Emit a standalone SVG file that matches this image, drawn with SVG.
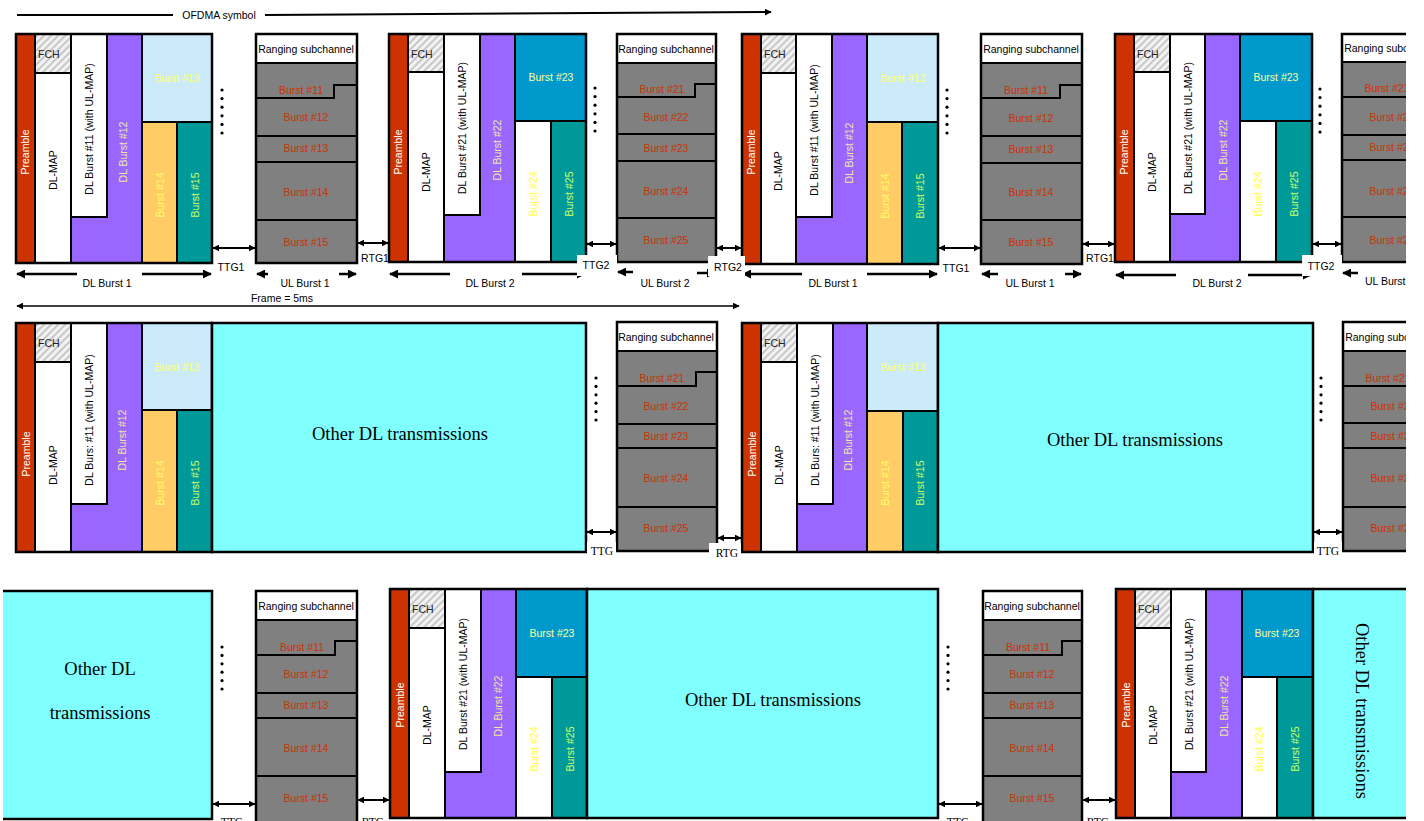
<svg xmlns="http://www.w3.org/2000/svg" width="1424" height="821" viewBox="0 0 1424 821">
<style>
.b{stroke:#000;stroke-width:2}
.o{fill:none;stroke:#000;stroke-width:2.5}
.cy{fill:#80FFFF;stroke:#000;stroke-width:2.5}
.s{font-family:"Liberation Sans",Arial,sans-serif;font-size:10.5px}
.tm{font-family:"Liberation Serif","Times New Roman",serif}
.c{text-anchor:middle}
.u{fill:#CC3300}
.y{fill:#FFFF66}
.yg{fill:#CCFF66}
.pl{fill:#F0E6A0}
.w{fill:#fff}
.k{fill:#000}
.ln{stroke:#000;fill:none}
.dot{fill:#000}
</style>
<defs>
<pattern id="hatch" width="5" height="5" patternUnits="userSpaceOnUse" patternTransform="rotate(45)"><rect width="5" height="5" fill="#F2F2F2"/><line x1="1" y1="0" x2="1" y2="5" stroke="#BDBDBD" stroke-width="1.6"/></pattern>
<marker id="ah" viewBox="0 0 10 10" refX="9" refY="5" markerWidth="7" markerHeight="7" markerUnits="userSpaceOnUse" orient="auto-start-reverse"><path d="M0,0 L10,5 L0,10 Z" fill="#000"/></marker>
<marker id="ahb" viewBox="0 0 10 10" refX="9" refY="5" markerWidth="9" markerHeight="9" markerUnits="userSpaceOnUse" orient="auto-start-reverse"><path d="M0,0 L10,5 L0,10 Z" fill="#000"/></marker>
<clipPath id="clip"><rect x="0" y="0" width="1406" height="821"/></clipPath>
</defs>
<rect width="1424" height="821" fill="#fff"/>
<g clip-path="url(#clip)">

<!-- ROW 1 -->
<g id="dl-r1-1" transform="translate(16,34)">
<rect x="0" y="0" width="19" height="229" fill="#CC3300" class="b"/>
<rect x="19" y="0" width="36" height="39" fill="url(#hatch)" class="b"/>
<rect x="19" y="39" width="36" height="190" fill="#fff" class="b"/>
<path d="M55,183 H91 V0 H126 V229 H55 Z" fill="#9966FF" class="b"/>
<rect x="55" y="0" width="36" height="183" fill="#fff" class="b"/>
<rect x="126" y="0" width="70" height="88" fill="#CCEBFA" class="b"/>
<rect x="126" y="88" width="35" height="141" fill="#FFCC66" class="b"/>
<rect x="161" y="88" width="35" height="141" fill="#009999" class="b"/>
<rect x="0" y="0" width="196" height="229" class="o"/>
<text x="22" y="24" class="s" fill="#222" font-size="11">FCH</text>
<text transform="translate(9.5,118) rotate(-90)" dy="0.35em" class="s c w" font-size="11">Preamble</text>
<text transform="translate(37,136) rotate(-90)" dy="0.35em" class="s c k" font-size="11.5">DL-MAP</text>
<text transform="translate(73,95) rotate(-90)" dy="0.35em" class="s c k">DL Burst #11 (with UL-MAP)</text>
<text transform="translate(107,118) rotate(-90)" dy="0.35em" class="s c pl">DL Burst #12</text>
<text x="161" y="44" dy="0.35em" class="s c y">Burst #13</text>
<text transform="translate(144,161) rotate(-90)" dy="0.35em" class="s c y">Burst #14</text>
<text transform="translate(179,161) rotate(-90)" dy="0.35em" class="s c yg">Burst #15</text>
</g>
<g id="ul-r1-1" transform="translate(256,34)">
<rect x="0" y="0" width="101" height="229" fill="#808080" class="b"/>
<rect x="0" y="0" width="101" height="29" fill="#fff" class="b"/>
<path d="M0,64 H78 V51 H101 M0,102 H101 M0,128 H101 M0,186 H101" class="b" fill="none"/>
<rect x="0" y="0" width="101" height="229" class="o"/>
<text x="50" y="15" dy="0.35em" class="s c k">Ranging subchannel</text>
<text x="45" y="56" dy="0.35em" class="s c u">Burst #11</text>
<text x="50" y="83" dy="0.35em" class="s c u">Burst #12</text>
<text x="50" y="114" dy="0.35em" class="s c u">Burst #13</text>
<text x="50" y="158" dy="0.35em" class="s c u">Burst #14</text>
<text x="50" y="208" dy="0.35em" class="s c u">Burst #15</text>
</g>
<g id="dl-r1-2" transform="translate(389,34)">
<rect x="0" y="0" width="19" height="228" fill="#CC3300" class="b"/>
<rect x="19" y="0" width="36" height="38" fill="url(#hatch)" class="b"/>
<rect x="19" y="38" width="36" height="190" fill="#fff" class="b"/>
<path d="M55,181 H91 V0 H126 V228 H55 Z" fill="#9966FF" class="b"/>
<rect x="55" y="0" width="36" height="181" fill="#fff" class="b"/>
<rect x="126" y="0" width="71" height="87" fill="#0099CC" class="b"/>
<rect x="126" y="87" width="36" height="141" fill="#fff" class="b"/>
<rect x="162" y="87" width="35" height="141" fill="#009999" class="b"/>
<rect x="0" y="0" width="197" height="228" class="o"/>
<text x="22" y="24" class="s" fill="#222" font-size="11">FCH</text>
<text transform="translate(9.5,118) rotate(-90)" dy="0.35em" class="s c w" font-size="11">Preamble</text>
<text transform="translate(37,138) rotate(-90)" dy="0.35em" class="s c k" font-size="11.5">DL-MAP</text>
<text transform="translate(73,94) rotate(-90)" dy="0.35em" class="s c k">DL Burst #21 (with UL-MAP)</text>
<text transform="translate(108,116) rotate(-90)" dy="0.35em" class="s c pl">DL Burst #22</text>
<text x="162" y="43" dy="0.35em" class="s c" fill="#FFFF99">Burst #23</text>
<text transform="translate(144,160) rotate(-90)" dy="0.35em" class="s c" fill="#FFFF33">Burst #24</text>
<text transform="translate(180,160) rotate(-90)" dy="0.35em" class="s c yg">Burst #25</text>
</g>
<g id="ul-r1-2" transform="translate(617,34)">
<rect x="0" y="0" width="99" height="228" fill="#808080" class="b"/>
<rect x="0" y="0" width="99" height="29" fill="#fff" class="b"/>
<path d="M0,63 H78 V50 H99 M0,100 H99 M0,127 H99 M0,184 H99" class="b" fill="none"/>
<rect x="0" y="0" width="99" height="228" class="o"/>
<text x="49" y="15" dy="0.35em" class="s c k">Ranging subchannel</text>
<text x="45" y="55" dy="0.35em" class="s c u">Burst #21</text>
<text x="49" y="83" dy="0.35em" class="s c u">Burst #22</text>
<text x="49" y="114" dy="0.35em" class="s c u">Burst #23</text>
<text x="49" y="157" dy="0.35em" class="s c u">Burst #24</text>
<text x="49" y="206" dy="0.35em" class="s c u">Burst #25</text>
</g>
<g id="dl-r1-3" transform="translate(742,34)">
<rect x="0" y="0" width="19" height="230" fill="#CC3300" class="b"/>
<rect x="19" y="0" width="35" height="39" fill="url(#hatch)" class="b"/>
<rect x="19" y="39" width="35" height="191" fill="#fff" class="b"/>
<path d="M54,183 H90 V0 H125 V230 H54 Z" fill="#9966FF" class="b"/>
<rect x="54" y="0" width="36" height="183" fill="#fff" class="b"/>
<rect x="125" y="0" width="71" height="88" fill="#CCEBFA" class="b"/>
<rect x="125" y="88" width="35" height="142" fill="#FFCC66" class="b"/>
<rect x="160" y="88" width="36" height="142" fill="#009999" class="b"/>
<rect x="0" y="0" width="196" height="230" class="o"/>
<text x="22" y="24" class="s" fill="#222" font-size="11">FCH</text>
<text transform="translate(9.5,118) rotate(-90)" dy="0.35em" class="s c w" font-size="11">Preamble</text>
<text transform="translate(36,137) rotate(-90)" dy="0.35em" class="s c k" font-size="11.5">DL-MAP</text>
<text transform="translate(72,96) rotate(-90)" dy="0.35em" class="s c k">DL Burst #11 (with UL-MAP)</text>
<text transform="translate(107,119) rotate(-90)" dy="0.35em" class="s c pl">DL Burst #12</text>
<text x="161" y="44" dy="0.35em" class="s c y">Burst #13</text>
<text transform="translate(143,162) rotate(-90)" dy="0.35em" class="s c y">Burst #14</text>
<text transform="translate(178,162) rotate(-90)" dy="0.35em" class="s c yg">Burst #15</text>
</g>
<g id="ul-r1-3" transform="translate(981,34)">
<rect x="0" y="0" width="101" height="230" fill="#808080" class="b"/>
<rect x="0" y="0" width="101" height="29" fill="#fff" class="b"/>
<path d="M0,64 H79 V51 H101 M0,102 H101 M0,129 H101 M0,186 H101" class="b" fill="none"/>
<rect x="0" y="0" width="101" height="230" class="o"/>
<text x="50" y="15" dy="0.35em" class="s c k">Ranging subchannel</text>
<text x="45" y="56" dy="0.35em" class="s c u">Burst #11</text>
<text x="50" y="84" dy="0.35em" class="s c u">Burst #12</text>
<text x="50" y="115" dy="0.35em" class="s c u">Burst #13</text>
<text x="50" y="158" dy="0.35em" class="s c u">Burst #14</text>
<text x="50" y="208" dy="0.35em" class="s c u">Burst #15</text>
</g>
<g id="dl-r1-4" transform="translate(1115,34)">
<rect x="0" y="0" width="19" height="228" fill="#CC3300" class="b"/>
<rect x="19" y="0" width="36" height="38" fill="url(#hatch)" class="b"/>
<rect x="19" y="38" width="36" height="190" fill="#fff" class="b"/>
<path d="M55,180 H90 V0 H125 V228 H55 Z" fill="#9966FF" class="b"/>
<rect x="55" y="0" width="35" height="180" fill="#fff" class="b"/>
<rect x="125" y="0" width="72" height="87" fill="#0099CC" class="b"/>
<rect x="125" y="87" width="36" height="141" fill="#fff" class="b"/>
<rect x="161" y="87" width="36" height="141" fill="#009999" class="b"/>
<rect x="0" y="0" width="197" height="228" class="o"/>
<text x="22" y="24" class="s" fill="#222" font-size="11">FCH</text>
<text transform="translate(9.5,118) rotate(-90)" dy="0.35em" class="s c w" font-size="11">Preamble</text>
<text transform="translate(37,138) rotate(-90)" dy="0.35em" class="s c k" font-size="11.5">DL-MAP</text>
<text transform="translate(73,94) rotate(-90)" dy="0.35em" class="s c k">DL Burst #21 (with UL-MAP)</text>
<text transform="translate(108,116) rotate(-90)" dy="0.35em" class="s c pl">DL Burst #22</text>
<text x="161" y="43" dy="0.35em" class="s c" fill="#FFFF99">Burst #23</text>
<text transform="translate(143,160) rotate(-90)" dy="0.35em" class="s c" fill="#FFFF33">Burst #24</text>
<text transform="translate(179,160) rotate(-90)" dy="0.35em" class="s c yg">Burst #25</text>
</g>
<g id="ul-r1-4" transform="translate(1342,34)">
<rect x="0" y="0" width="101" height="228" fill="#808080" class="b"/>
<rect x="0" y="0" width="101" height="28" fill="#fff" class="b"/>
<path d="M0,63 H101 M0,101 H101 M0,126 H101 M0,183 H101" class="b" fill="none"/>
<rect x="0" y="0" width="101" height="228" class="o"/>
<text x="50" y="14" dy="0.35em" class="s c k">Ranging subchannel</text>
<text x="45" y="54" dy="0.35em" class="s c u">Burst #21</text>
<text x="50" y="83" dy="0.35em" class="s c u">Burst #22</text>
<text x="50" y="113" dy="0.35em" class="s c u">Burst #23</text>
<text x="50" y="157" dy="0.35em" class="s c u">Burst #24</text>
<text x="50" y="206" dy="0.35em" class="s c u">Burst #25</text>
</g>

<!-- ROW 2 -->
<g id="dl-r2-1" transform="translate(16,323)">
<rect x="0" y="0" width="19" height="229" fill="#CC3300" class="b"/>
<rect x="19" y="0" width="36" height="39" fill="url(#hatch)" class="b"/>
<rect x="19" y="39" width="36" height="190" fill="#fff" class="b"/>
<path d="M55,181 H91 V0 H126 V229 H55 Z" fill="#9966FF" class="b"/>
<rect x="55" y="0" width="36" height="181" fill="#fff" class="b"/>
<rect x="126" y="0" width="70" height="87" fill="#CCEBFA" class="b"/>
<rect x="126" y="87" width="35" height="142" fill="#FFCC66" class="b"/>
<rect x="161" y="87" width="35" height="142" fill="#009999" class="b"/>
<rect x="0" y="0" width="196" height="229" class="o"/>
<text x="22" y="24" class="s" fill="#222" font-size="11">FCH</text>
<text transform="translate(10,131) rotate(-90)" dy="0.35em" class="s c w" font-size="11">Preamble</text>
<text transform="translate(37,142) rotate(-90)" dy="0.35em" class="s c k" font-size="11.5">DL-MAP</text>
<text transform="translate(73,97) rotate(-90)" dy="0.35em" class="s c k">DL Burs: #11 (with UL-MAP)</text>
<text transform="translate(106,117) rotate(-90)" dy="0.35em" class="s c pl">DL Burst #12</text>
<text x="161" y="44" dy="0.35em" class="s c y">Burst #13</text>
<text transform="translate(144,160) rotate(-90)" dy="0.35em" class="s c y">Burst #14</text>
<text transform="translate(179,160) rotate(-90)" dy="0.35em" class="s c yg">Burst #15</text>
</g>
<g id="other-r2-1">
<rect x="212" y="323" width="374" height="229" class="cy"/>
<text x="400" y="440" class="tm c" font-size="18.5" fill="#000">Other DL transmissions</text>
</g>
<g id="ul-r2-1" transform="translate(617,322)">
<rect x="0" y="0" width="100" height="229" fill="#808080" class="b"/>
<rect x="0" y="0" width="100" height="29" fill="#fff" class="b"/>
<path d="M0,64 H79 V50 H100 M0,102 H100 M0,126 H100 M0,185 H100" class="b" fill="none"/>
<rect x="0" y="0" width="100" height="229" class="o"/>
<text x="49" y="15" dy="0.35em" class="s c k">Ranging subchannel</text>
<text x="45" y="56" dy="0.35em" class="s c u">Burst #21</text>
<text x="49" y="84" dy="0.35em" class="s c u">Burst #22</text>
<text x="49" y="114" dy="0.35em" class="s c u">Burst #23</text>
<text x="49" y="156" dy="0.35em" class="s c u">Burst #24</text>
<text x="49" y="206" dy="0.35em" class="s c u">Burst #25</text>
</g>
<g id="dl-r2-2" transform="translate(742,323)">
<rect x="0" y="0" width="19" height="229" fill="#CC3300" class="b"/>
<rect x="19" y="0" width="36" height="39" fill="url(#hatch)" class="b"/>
<rect x="19" y="39" width="36" height="190" fill="#fff" class="b"/>
<path d="M55,181 H91 V0 H125 V229 H55 Z" fill="#9966FF" class="b"/>
<rect x="55" y="0" width="36" height="181" fill="#fff" class="b"/>
<rect x="125" y="0" width="71" height="88" fill="#CCEBFA" class="b"/>
<rect x="125" y="88" width="36" height="141" fill="#FFCC66" class="b"/>
<rect x="161" y="88" width="35" height="141" fill="#009999" class="b"/>
<rect x="0" y="0" width="196" height="229" class="o"/>
<text x="22" y="24" class="s" fill="#222" font-size="11">FCH</text>
<text transform="translate(10,131) rotate(-90)" dy="0.35em" class="s c w" font-size="11">Preamble</text>
<text transform="translate(37,142) rotate(-90)" dy="0.35em" class="s c k" font-size="11.5">DL-MAP</text>
<text transform="translate(73,97) rotate(-90)" dy="0.35em" class="s c k">DL Burs: #11 (with UL-MAP)</text>
<text transform="translate(106,117) rotate(-90)" dy="0.35em" class="s c pl">DL Burst #12</text>
<text x="161" y="44" dy="0.35em" class="s c y">Burst #13</text>
<text transform="translate(143,160) rotate(-90)" dy="0.35em" class="s c y">Burst #14</text>
<text transform="translate(178,160) rotate(-90)" dy="0.35em" class="s c yg">Burst #15</text>
</g>
<g id="other-r2-2">
<rect x="938" y="323" width="375" height="229" class="cy"/>
<text x="1135" y="446" class="tm c" font-size="18.5" fill="#000">Other DL transmissions</text>
</g>
<g id="ul-r2-2" transform="translate(1343,322)">
<rect x="0" y="0" width="100" height="229" fill="#808080" class="b"/>
<rect x="0" y="0" width="100" height="29" fill="#fff" class="b"/>
<path d="M0,64 H100 M0,101 H100 M0,126 H100 M0,185 H100" class="b" fill="none"/>
<rect x="0" y="0" width="100" height="229" class="o"/>
<text x="50" y="15" dy="0.35em" class="s c k">Ranging subchannel</text>
<text x="45" y="56" dy="0.35em" class="s c u">Burst #21</text>
<text x="50" y="84" dy="0.35em" class="s c u">Burst #22</text>
<text x="50" y="114" dy="0.35em" class="s c u">Burst #23</text>
<text x="50" y="156" dy="0.35em" class="s c u">Burst #24</text>
<text x="50" y="206" dy="0.35em" class="s c u">Burst #25</text>
</g>

<!-- ROW 3 -->
<g id="other-r3-1">
<rect x="3" y="591" width="209" height="228" fill="#80FFFF"/>
<path d="M3,591 H212 V819 H3" class="o"/>
<text x="100" y="675" class="tm c" font-size="18.5" fill="#000">Other DL</text>
<text x="100" y="719" class="tm c" font-size="18.5" fill="#000">transmissions</text>
</g>
<g id="ul-r3-1" transform="translate(256,591)">
<rect x="0" y="0" width="101" height="235" fill="#808080" class="b"/>
<rect x="0" y="0" width="101" height="29" fill="#fff" class="b"/>
<path d="M0,64 H79 V50 H101 M0,102 H101 M0,127 H101 M0,185 H101" class="b" fill="none"/>
<rect x="0" y="0" width="101" height="235" class="o"/>
<text x="50" y="15" dy="0.35em" class="s c k">Ranging subchannel</text>
<text x="46" y="56" dy="0.35em" class="s c u">Burst #11</text>
<text x="50" y="83" dy="0.35em" class="s c u">Burst #12</text>
<text x="50" y="114" dy="0.35em" class="s c u">Burst #13</text>
<text x="50" y="157" dy="0.35em" class="s c u">Burst #14</text>
<text x="50" y="207" dy="0.35em" class="s c u">Burst #15</text>
</g>
<g id="dl-r3-1" transform="translate(390,589)">
<rect x="0" y="0" width="19" height="229" fill="#CC3300" class="b"/>
<rect x="19" y="0" width="36" height="39" fill="url(#hatch)" class="b"/>
<rect x="19" y="39" width="36" height="190" fill="#fff" class="b"/>
<path d="M55,183 H91 V0 H126 V229 H55 Z" fill="#9966FF" class="b"/>
<rect x="55" y="0" width="36" height="183" fill="#fff" class="b"/>
<rect x="126" y="0" width="71" height="88" fill="#0099CC" class="b"/>
<rect x="126" y="88" width="36" height="141" fill="#fff" class="b"/>
<rect x="162" y="88" width="35" height="141" fill="#009999" class="b"/>
<rect x="0" y="0" width="197" height="229" class="o"/>
<text x="22" y="24" class="s" fill="#222" font-size="11">FCH</text>
<text transform="translate(10,116) rotate(-90)" dy="0.35em" class="s c w" font-size="11">Preamble</text>
<text transform="translate(37,136) rotate(-90)" dy="0.35em" class="s c k" font-size="11.5">DL-MAP</text>
<text transform="translate(73,95) rotate(-90)" dy="0.35em" class="s c k">DL Burst #21 (with UL-MAP)</text>
<text transform="translate(108,117) rotate(-90)" dy="0.35em" class="s c pl">DL Burst #22</text>
<text x="162" y="44" dy="0.35em" class="s c" fill="#FFFF99">Burst #23</text>
<text transform="translate(144,160) rotate(-90)" dy="0.35em" class="s c" fill="#FFFF33">Burst #24</text>
<text transform="translate(180,160) rotate(-90)" dy="0.35em" class="s c yg">Burst #25</text>
</g>
<g id="other-r3-2">
<rect x="587" y="589" width="351" height="229" class="cy"/>
<text x="773" y="706" class="tm c" font-size="18.5" fill="#000">Other DL transmissions</text>
</g>
<g id="ul-r3-2" transform="translate(983,591)">
<rect x="0" y="0" width="99" height="235" fill="#808080" class="b"/>
<rect x="0" y="0" width="99" height="29" fill="#fff" class="b"/>
<path d="M0,64 H79 V50 H99 M0,102 H99 M0,127 H99 M0,185 H99" class="b" fill="none"/>
<rect x="0" y="0" width="99" height="235" class="o"/>
<text x="49" y="15" dy="0.35em" class="s c k">Ranging subchannel</text>
<text x="45" y="56" dy="0.35em" class="s c u">Burst #11</text>
<text x="49" y="83" dy="0.35em" class="s c u">Burst #12</text>
<text x="49" y="114" dy="0.35em" class="s c u">Burst #13</text>
<text x="49" y="157" dy="0.35em" class="s c u">Burst #14</text>
<text x="49" y="207" dy="0.35em" class="s c u">Burst #15</text>
</g>
<g id="dl-r3-2" transform="translate(1116,589)">
<rect x="0" y="0" width="19" height="229" fill="#CC3300" class="b"/>
<rect x="19" y="0" width="36" height="39" fill="url(#hatch)" class="b"/>
<rect x="19" y="39" width="36" height="190" fill="#fff" class="b"/>
<path d="M55,183 H90 V0 H126 V229 H55 Z" fill="#9966FF" class="b"/>
<rect x="55" y="0" width="35" height="183" fill="#fff" class="b"/>
<rect x="126" y="0" width="71" height="88" fill="#0099CC" class="b"/>
<rect x="126" y="88" width="35" height="141" fill="#fff" class="b"/>
<rect x="161" y="88" width="36" height="141" fill="#009999" class="b"/>
<rect x="0" y="0" width="197" height="229" class="o"/>
<text x="22" y="24" class="s" fill="#222" font-size="11">FCH</text>
<text transform="translate(10,116) rotate(-90)" dy="0.35em" class="s c w" font-size="11">Preamble</text>
<text transform="translate(37,136) rotate(-90)" dy="0.35em" class="s c k" font-size="11.5">DL-MAP</text>
<text transform="translate(73,95) rotate(-90)" dy="0.35em" class="s c k">DL Burst #21 (with UL-MAP)</text>
<text transform="translate(108,117) rotate(-90)" dy="0.35em" class="s c pl">DL Burst #22</text>
<text x="161" y="44" dy="0.35em" class="s c" fill="#FFFF99">Burst #23</text>
<text transform="translate(143,160) rotate(-90)" dy="0.35em" class="s c" fill="#FFFF33">Burst #24</text>
<text transform="translate(179,160) rotate(-90)" dy="0.35em" class="s c yg">Burst #25</text>
</g>
<g id="other-r3-3">
<rect x="1313" y="589" width="120" height="229" class="cy"/>
<text transform="translate(1362,711) rotate(90)" dy="0.35em" class="tm c" font-size="18.5" fill="#000">Other DL transmissions</text>
</g>

<!-- dots -->
<g id="dots">
<circle cx="222" cy="90" r="1.6" class="dot"/><circle cx="222" cy="98.6" r="1.6" class="dot"/><circle cx="222" cy="107.2" r="1.6" class="dot"/><circle cx="222" cy="115.8" r="1.6" class="dot"/><circle cx="222" cy="124.4" r="1.6" class="dot"/><circle cx="222" cy="133" r="1.6" class="dot"/>
<circle cx="595" cy="88" r="1.6" class="dot"/><circle cx="595" cy="96.6" r="1.6" class="dot"/><circle cx="595" cy="105.2" r="1.6" class="dot"/><circle cx="595" cy="113.8" r="1.6" class="dot"/><circle cx="595" cy="122.4" r="1.6" class="dot"/><circle cx="595" cy="131" r="1.6" class="dot"/>
<circle cx="947" cy="90" r="1.6" class="dot"/><circle cx="947" cy="98.6" r="1.6" class="dot"/><circle cx="947" cy="107.2" r="1.6" class="dot"/><circle cx="947" cy="115.8" r="1.6" class="dot"/><circle cx="947" cy="124.4" r="1.6" class="dot"/><circle cx="947" cy="133" r="1.6" class="dot"/>
<circle cx="1320" cy="89" r="1.6" class="dot"/><circle cx="1320" cy="97.6" r="1.6" class="dot"/><circle cx="1320" cy="106.2" r="1.6" class="dot"/><circle cx="1320" cy="114.8" r="1.6" class="dot"/><circle cx="1320" cy="123.4" r="1.6" class="dot"/><circle cx="1320" cy="132" r="1.6" class="dot"/>
<circle cx="596" cy="378" r="1.6" class="dot"/><circle cx="596" cy="386.4" r="1.6" class="dot"/><circle cx="596" cy="394.8" r="1.6" class="dot"/><circle cx="596" cy="403.2" r="1.6" class="dot"/><circle cx="596" cy="411.6" r="1.6" class="dot"/><circle cx="596" cy="420" r="1.6" class="dot"/>
<circle cx="1321" cy="378" r="1.6" class="dot"/><circle cx="1321" cy="386.4" r="1.6" class="dot"/><circle cx="1321" cy="394.8" r="1.6" class="dot"/><circle cx="1321" cy="403.2" r="1.6" class="dot"/><circle cx="1321" cy="411.6" r="1.6" class="dot"/><circle cx="1321" cy="420" r="1.6" class="dot"/>
<circle cx="222" cy="647" r="1.6" class="dot"/><circle cx="222" cy="655.4" r="1.6" class="dot"/><circle cx="222" cy="663.8" r="1.6" class="dot"/><circle cx="222" cy="672.2" r="1.6" class="dot"/><circle cx="222" cy="680.6" r="1.6" class="dot"/><circle cx="222" cy="689" r="1.6" class="dot"/>
<circle cx="948" cy="647" r="1.6" class="dot"/><circle cx="948" cy="655.4" r="1.6" class="dot"/><circle cx="948" cy="663.8" r="1.6" class="dot"/><circle cx="948" cy="672.2" r="1.6" class="dot"/><circle cx="948" cy="680.6" r="1.6" class="dot"/><circle cx="948" cy="689" r="1.6" class="dot"/>
</g>

<!-- connectors -->
<g id="connectors" class="ln">
<line x1="17" y1="15" x2="173" y2="15" stroke-width="2"/>
<line x1="265" y1="15" x2="771" y2="12" stroke-width="2" marker-end="url(#ah)"/>
<line x1="17" y1="306" x2="739" y2="306" stroke-width="1.5" marker-start="url(#ah)" marker-end="url(#ah)"/>
<line x1="213" y1="248" x2="255" y2="248" stroke-width="2" marker-start="url(#ah)" marker-end="url(#ah)"/>
<line x1="358" y1="243" x2="388" y2="243" stroke-width="2" marker-start="url(#ah)" marker-end="url(#ah)"/>
<line x1="587" y1="244" x2="616" y2="244" stroke-width="2" marker-start="url(#ah)" marker-end="url(#ah)"/>
<line x1="717" y1="248" x2="741" y2="248" stroke-width="2" marker-start="url(#ah)" marker-end="url(#ah)"/>
<line x1="939" y1="248" x2="980" y2="248" stroke-width="2" marker-start="url(#ah)" marker-end="url(#ah)"/>
<line x1="1083" y1="244" x2="1114" y2="244" stroke-width="2" marker-start="url(#ah)" marker-end="url(#ah)"/>
<line x1="1313" y1="244" x2="1341" y2="244" stroke-width="2" marker-start="url(#ah)" marker-end="url(#ah)"/>
<line x1="77" y1="274" x2="17" y2="274" stroke-width="2.5" marker-end="url(#ahb)"/>
<line x1="142" y1="274" x2="211" y2="274" stroke-width="2.5" marker-end="url(#ahb)"/>
<line x1="268" y1="274" x2="257" y2="274" stroke-width="2.5" marker-end="url(#ahb)"/>
<line x1="339" y1="274" x2="356" y2="274" stroke-width="2.5" marker-end="url(#ahb)"/>
<line x1="450" y1="274" x2="390" y2="274" stroke-width="2.5" marker-end="url(#ahb)"/>
<line x1="522" y1="274" x2="585" y2="274" stroke-width="2.5" marker-end="url(#ahb)"/>
<line x1="633" y1="272" x2="618" y2="272" stroke-width="2.5" marker-end="url(#ahb)"/>
<line x1="697" y1="273" x2="715" y2="273" stroke-width="2.5" marker-end="url(#ahb)"/>
<line x1="802" y1="274" x2="743" y2="274" stroke-width="2.5" marker-end="url(#ahb)"/>
<line x1="867" y1="274" x2="937" y2="274" stroke-width="2.5" marker-end="url(#ahb)"/>
<line x1="998" y1="274" x2="982" y2="274" stroke-width="2.5" marker-end="url(#ahb)"/>
<line x1="1065" y1="274" x2="1081" y2="274" stroke-width="2.5" marker-end="url(#ahb)"/>
<line x1="1176" y1="275" x2="1116" y2="275" stroke-width="2.5" marker-end="url(#ahb)"/>
<line x1="1248" y1="275" x2="1311" y2="275" stroke-width="2.5" marker-end="url(#ahb)"/>
<line x1="1358" y1="273" x2="1343" y2="273" stroke-width="2.5" marker-end="url(#ahb)"/>
<line x1="587" y1="532" x2="616" y2="532" stroke-width="2" marker-start="url(#ah)" marker-end="url(#ah)"/>
<line x1="718" y1="538" x2="741" y2="538" stroke-width="2" marker-start="url(#ah)" marker-end="url(#ah)"/>
<line x1="1314" y1="532" x2="1342" y2="532" stroke-width="2" marker-start="url(#ah)" marker-end="url(#ah)"/>
<line x1="213" y1="804" x2="255" y2="804" stroke-width="2" marker-start="url(#ah)" marker-end="url(#ah)"/>
<line x1="358" y1="800" x2="389" y2="800" stroke-width="2" marker-start="url(#ah)" marker-end="url(#ah)"/>
<line x1="939" y1="804" x2="982" y2="804" stroke-width="2" marker-start="url(#ah)" marker-end="url(#ah)"/>
<line x1="1083" y1="800" x2="1115" y2="800" stroke-width="2" marker-start="url(#ah)" marker-end="url(#ah)"/>
</g>

<!-- labels -->
<g id="labels">
<rect x="577" y="255" width="40" height="21" fill="#fff"/>
<rect x="708" y="256" width="37" height="20" fill="#fff"/>
<rect x="1302" y="255" width="40" height="21" fill="#fff"/>
<rect x="587" y="542" width="29" height="14" fill="#fff"/>
<rect x="709" y="543" width="32" height="14" fill="#fff"/>
<rect x="1314" y="542" width="28" height="14" fill="#fff"/>
<text x="219" y="19" class="s c k">OFDMA symbol</text>
<text x="231" y="271" class="s c k">TTG1</text>
<text x="375" y="262" class="s c k">RTG1</text>
<text x="596" y="269" class="s c k">TTG2</text>
<text x="728" y="271" class="s c k">RTG2</text>
<text x="956" y="272" class="s c k">TTG1</text>
<text x="1100" y="262" class="s c k">RTG1</text>
<text x="1321" y="270" class="s c k">TTG2</text>
<text x="107" y="287" class="s c k">DL Burst 1</text>
<text x="305" y="287" class="s c k">UL Burst 1</text>
<text x="490" y="287" class="s c k">DL Burst 2</text>
<text x="665" y="287" class="s c k">UL Burst 2</text>
<text x="833" y="287" class="s c k">DL Burst 1</text>
<text x="1030" y="287" class="s c k">UL Burst 1</text>
<text x="1217" y="287" class="s c k">DL Burst 2</text>
<text x="1365" y="285" class="s k">UL Burst 2</text>
<text x="282" y="302" class="s c k">Frame = 5ms</text>
<text x="602" y="555" class="tm c" font-size="11.5" fill="#000">TTG</text>
<text x="727" y="557" class="tm c" font-size="11.5" fill="#000">RTG</text>
<text x="1328" y="555" class="tm c" font-size="11.5" fill="#000">TTG</text>
<text x="232" y="826" class="tm c" font-size="11.5" fill="#000">TTG</text>
<text x="373" y="826" class="tm c" font-size="11.5" fill="#000">RTG</text>
<text x="958" y="826" class="tm c" font-size="11.5" fill="#000">TTG</text>
<text x="1098" y="826" class="tm c" font-size="11.5" fill="#000">RTG</text>
</g>
</g>
</svg>
